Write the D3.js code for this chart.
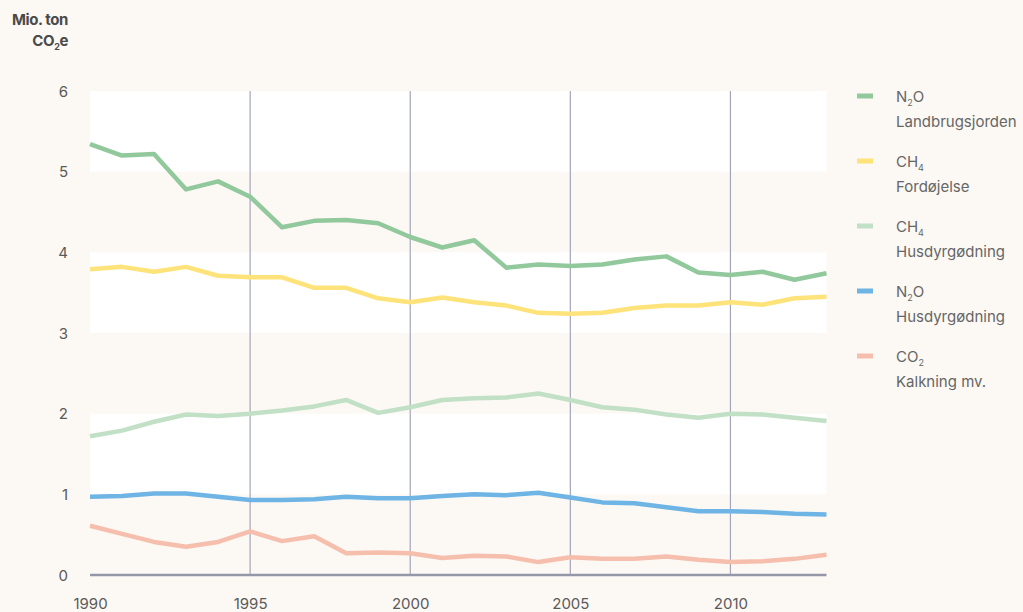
<!DOCTYPE html>
<html><head><meta charset="utf-8">
<script src="https://cdn.jsdelivr.net/npm/d3@7"></script>
<style>
html,body{margin:0;padding:0;background:#fcf9f4;}
svg{display:block;font-family:Inter,"Open Sans",sans-serif;}
</style></head>
<body><svg id="c" width="1023" height="612"></svg>
<script>
const years = d3.range(1990, 2014);
const n2oLand = [5.34,5.20,5.22,4.78,4.88,4.69,4.31,4.39,4.40,4.36,4.19,4.06,4.15,3.81,3.85,3.83,3.85,3.91,3.95,3.75,3.72,3.76,3.66,3.74];
const ch4Ford = [3.79,3.82,3.76,3.82,3.71,3.69,3.69,3.56,3.56,3.43,3.38,3.44,3.38,3.34,3.25,3.24,3.25,3.31,3.34,3.34,3.38,3.35,3.43,3.45];
const ch4Hus = [1.72,1.79,1.90,1.99,1.97,2.00,2.04,2.09,2.17,2.01,2.08,2.17,2.19,2.20,2.25,2.17,2.08,2.05,1.99,1.95,2.00,1.99,1.95,1.91];
const n2oHus = [0.97,0.98,1.01,1.01,0.97,0.93,0.93,0.94,0.97,0.95,0.95,0.98,1.00,0.99,1.02,0.96,0.90,0.89,0.84,0.79,0.79,0.78,0.76,0.75];
const co2Kalk = [0.61,0.51,0.41,0.35,0.41,0.54,0.42,0.48,0.27,0.28,0.27,0.21,0.24,0.23,0.16,0.22,0.20,0.20,0.23,0.19,0.16,0.17,0.20,0.25];
const yTicks = [0,1,2,3,4,5,6];
const xTicks = [1990,1995,2000,2005,2010];
const gridYears = [1995,2000,2005,2010];
const seriesNames = [["N","2","O","Landbrugsjorden"],["CH","4","","Fordøjelse"],["CH","4","","Husdyrgødning"],["N","2","O","Husdyrgødning"],["CO","2","","Kalkning mv."]];
const colors = ["#91c89c","#fde37a","#c1e0c6","#6eb4e5","#f6bead"];
const seriesData = [n2oLand, ch4Ford, ch4Hus, n2oHus, co2Kalk];

const svg = d3.select("#c");
const x = d3.scaleLinear().domain([1990,2013]).range([90,826.5]);
const y = d3.scaleLinear().domain([0,6]).range([575,91]);

// white bands
[[5,6],[3,4],[1,2]].forEach(b=>{
  svg.append("rect").attr("x",x(1990)).attr("width",x(2013)-x(1990))
    .attr("y",y(b[1])).attr("height",y(b[0])-y(b[1])).attr("fill","#ffffff");
});
// vertical gridlines
svg.selectAll(".vg").data(gridYears).enter().append("line")
  .attr("x1",d=>x(d)).attr("x2",d=>x(d)).attr("y1",y(6)).attr("y2",y(0))
  .attr("stroke","#a4a6b8").attr("stroke-width",1.2);

// y axis labels
const yAxis = d3.axisLeft(y).tickValues(yTicks).tickSize(0).tickPadding(0).tickFormat(d3.format("d"));
const ga = svg.append("g").attr("transform","translate(68,0)").call(yAxis);
ga.select(".domain").remove();
ga.selectAll("text").attr("font-size",15).attr("fill","#5a5a5a").attr("font-family","Inter,sans-serif").attr("dy","0.35em");

// x axis
const xAxis = d3.axisBottom(x).tickValues(xTicks).tickSize(0).tickPadding(0).tickFormat(d3.format("d"));
const gx = svg.append("g").attr("transform","translate(0,598)").call(xAxis);
gx.select(".domain").remove();
gx.selectAll("text").attr("font-size",15).attr("fill","#5a5a5a").attr("font-family","Inter,sans-serif").attr("dy","0.71em");

// lines
const line = d3.line().x((d,i)=>x(years[i])).y(d=>y(d));
[4,3,2,1,0].forEach(k=>{
  svg.append("path").datum(seriesData[k]).attr("d",line).attr("fill","none")
    .attr("stroke",colors[k]).attr("stroke-width",4.5).attr("stroke-linejoin","round");
});
// baseline
svg.append("line").attr("x1",x(1990)).attr("x2",x(2013)).attr("y1",y(0)).attr("y2",y(0))
  .attr("stroke","#9597a8").attr("stroke-width",2.5);

// y title
const t1 = svg.append("text").attr("x",68).attr("y",25).attr("text-anchor","end")
  .attr("font-size",15).attr("font-weight",700).attr("fill","#4a4a4a").attr("letter-spacing","-0.4").text("Mio. ton");
const t2 = svg.append("text").attr("x",68).attr("y",46).attr("text-anchor","end")
  .attr("font-size",15).attr("font-weight",700).attr("fill","#4a4a4a").attr("letter-spacing","-0.4");
t2.append("tspan").text("CO");
t2.append("tspan").attr("font-size",9).attr("dy",4).text("2");
t2.append("tspan").attr("dy",-4).text("e");

// legend
seriesNames.forEach((s,i)=>{
  const yy = 96 + i*65;
  svg.append("line").attr("x1",857).attr("x2",873).attr("y1",yy).attr("y2",yy)
    .attr("stroke",colors[i]).attr("stroke-width",5);
  const tt = svg.append("text").attr("x",896).attr("y",yy+6).attr("font-size",15).attr("fill","#666");
  tt.append("tspan").text(s[0]);
  tt.append("tspan").attr("font-size",9).attr("dy",4).text(s[1]);
  if (s[2]) tt.append("tspan").attr("dy",-4).text(s[2]);
  svg.append("text").attr("x",896).attr("y",yy+31).attr("font-size",15).attr("fill","#666").text(s[3]);
});
</script></body></html>
